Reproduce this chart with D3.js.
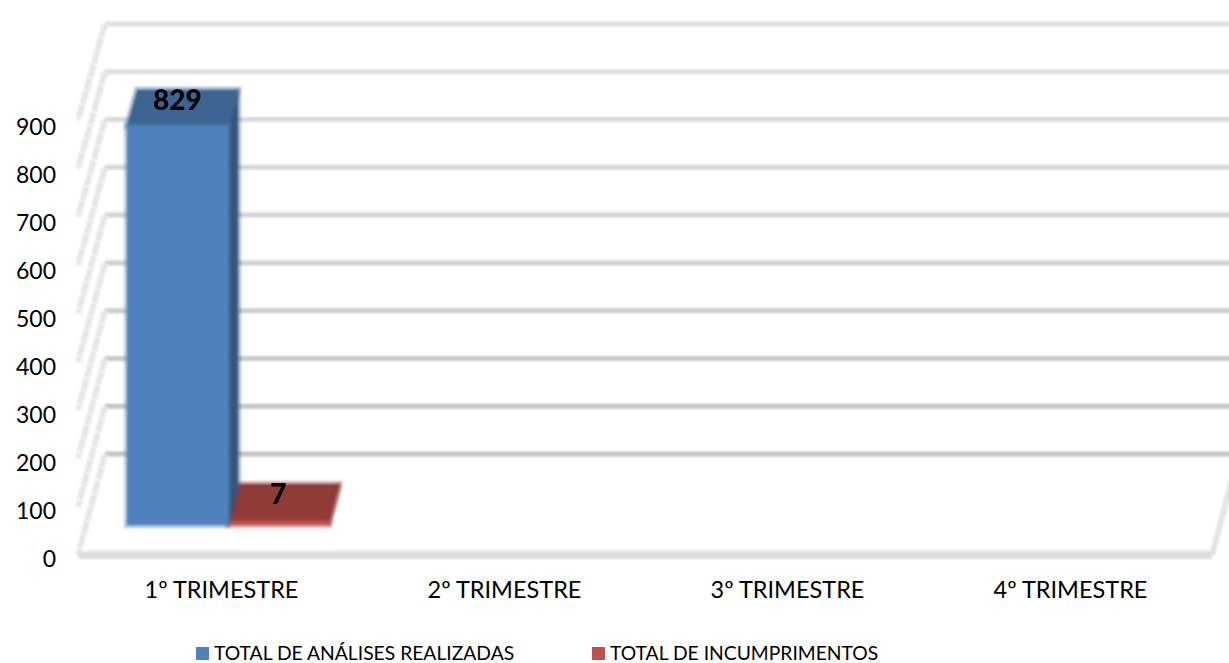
<!DOCTYPE html>
<html>
<head>
<meta charset="utf-8">
<script src="https://cdn.jsdelivr.net/npm/d3@7"></script>
<style>
  html, body { margin: 0; padding: 0; background: #fff; }
  svg { display: block; }
  text { font-family: Lato, "Open Sans", sans-serif; fill: #000; }
</style>
</head>
<body>
<div id="chart"></div>
<script>
var categories = ["1º TRIMESTRE", "2º TRIMESTRE", "3º TRIMESTRE", "4º TRIMESTRE"];
var analises = [829, null, null, null];
var incumprimentos = [7, null, null, null];
var tickValues = [0, 100, 200, 300, 400, 500, 600, 700, 800, 900];
var seriesNames = ["TOTAL DE ANÁLISES REALIZADAS", "TOTAL DE INCUMPRIMENTOS"];

var width = 1229, height = 663;

var svg = d3.select("#chart").append("svg")
  .attr("width", width)
  .attr("height", height);

var defs = svg.append("defs");
defs.append("filter").attr("id", "soft")
  .attr("x", "-5%").attr("y", "-5%").attr("width", "110%").attr("height", "110%")
  .append("feGaussianBlur").attr("stdDeviation", 0.9);
defs.append("filter").attr("id", "softText")
  .append("feGaussianBlur").attr("stdDeviation", 0.35);

// front plane and back plane of the 3d box
var yFront = d3.scaleLinear().domain([0, 900]).range([555, 120]);
var yBack = d3.scaleLinear().domain([0, 900]).range([454, 24]);
var xFront = d3.scaleLinear().domain([0, 4]).range([78, 1212]);
var xBack = d3.scaleLinear().domain([0, 4]).range([105, 1239]);
var band = d3.scaleBand().domain(categories).range([80, 1212]);
var toPos = xFront.copy().clamp(false);

// depth 0 = front of the floor, depth 1 = back wall
function project(pos, value, depth) {
  return [
    xFront(pos) + (xBack(pos) - xFront(pos)) * depth,
    yFront(value) + (yBack(value) - yFront(value)) * depth
  ];
}

var line = d3.line();
var walls = svg.append("g").attr("filter", "url(#soft)");

// back wall gridlines, they get darker towards the bottom
var gridColor = d3.scaleLinear().domain([0, 900]).range(["#c2c2c2", "#e0e0e0"]);
walls.selectAll(".grid").data(tickValues).enter().append("path")
  .attr("class", "grid")
  .attr("d", function(d) { return line([project(0, d, 1), project(4, d, 1)]); })
  .attr("stroke", function(d) { return gridColor(d); })
  .attr("stroke-width", 5)
  .attr("fill", "none");

// side wall gridlines
walls.selectAll(".side").data(tickValues).enter().append("path")
  .attr("class", "side")
  .attr("d", function(d) { return line([project(0, d, 1), project(0, d, 0)]); })
  .attr("stroke", "#e6e6e6")
  .attr("stroke-width", 6)
  .attr("stroke-dasharray", "13 1")
  .attr("fill", "none");

// floor
walls.append("path")
  .attr("d", line([project(0, 0, 0), project(4, 0, 0)]))
  .attr("stroke", "#dfdfdf")
  .attr("stroke-width", 8)
  .attr("fill", "none");
walls.append("path")
  .attr("d", line([project(4, 0, 0), project(4, 0, 1)]))
  .attr("stroke", "#e4e4e4")
  .attr("stroke-width", 6)
  .attr("fill", "none");

// bars
var depthFront = 0.295, depthBack = 0.67;
var slot = band.bandwidth() * 0.3565;
var barGroup = svg.append("g").attr("filter", "url(#soft)");
var blue = { front: "#4f81bd", top: "#3d6491", side: "#34557f" };
var red = { front: "#c0504d", top: "#8f3a38", side: "#7d3230" };

function slotStart(catIndex, seriesIndex) {
  return toPos.invert(band(categories[catIndex]) + 39 + seriesIndex * slot);
}

function bar(catIndex, seriesIndex, value, colors) {
  var x0 = slotStart(catIndex, seriesIndex);
  var x1 = toPos.invert(toPos(x0) + slot);
  function poly(pts, fill) {
    barGroup.append("path")
      .attr("d", line(pts) + "Z")
      .attr("fill", fill)
      .attr("stroke", fill)
      .attr("stroke-opacity", 0.4)
      .attr("stroke-width", 6);
  }
  poly([project(x1, 0, depthFront), project(x1, 0, depthBack), project(x1, value, depthBack), project(x1, value, depthFront)], colors.side);
  poly([project(x0, value, depthFront), project(x1, value, depthFront), project(x1, value, depthBack), project(x0, value, depthBack)], colors.top);
  poly([project(x0, 0, depthFront), project(x1, 0, depthFront), project(x1, value, depthFront), project(x0, value, depthFront)], colors.front);
}

incumprimentos.forEach(function(v, i) { if (v !== null) bar(i, 1, v, red); });
analises.forEach(function(v, i) { if (v !== null) bar(i, 0, v, blue); });

// value labels, sit on the top of each bar
var labels = svg.append("g").attr("filter", "url(#softText)")
  .attr("font-weight", 900)
  .attr("font-size", 28)
  .attr("text-anchor", "middle");

function valueLabel(catIndex, seriesIndex, value) {
  var xMid = toPos.invert(toPos(slotStart(catIndex, seriesIndex)) + slot / 2);
  labels.append("text")
    .attr("x", project(xMid, value, depthFront)[0])
    .attr("y", project(xMid, value, depthBack)[1] + 20)
    .text(value);
}
analises.forEach(function(v, i) { if (v !== null) valueLabel(i, 0, v); });
incumprimentos.forEach(function(v, i) { if (v !== null) valueLabel(i, 1, v); });

// y axis labels
var yLabels = d3.scaleLinear().domain([0, 900]).range([559, 127]);
var axis = svg.append("g")
  .attr("transform", "translate(56,0)")
  .call(d3.axisLeft(yLabels).tickValues(tickValues).tickSize(0).tickPadding(0));
axis.select(".domain").remove();
axis.selectAll("text")
  .attr("font-size", 23)
  .style("font-family", "Lato, sans-serif");

// category labels
svg.append("g").selectAll("text").data(categories).enter().append("text")
  .attr("x", function(d) { return band(d) + band.bandwidth() / 2; })
  .attr("y", 598)
  .attr("text-anchor", "middle")
  .attr("font-size", 23.5)
  .text(function(d) { return d; });

// legend
var legendX = [196, 592];
var legendColors = [blue.front, red.front];
var legend = svg.append("g").selectAll("g").data(seriesNames).enter().append("g")
  .attr("transform", function(d, i) { return "translate(" + legendX[i] + ",647)"; });
legend.append("rect").attr("width", 13).attr("height", 13)
  .attr("fill", function(d, i) { return legendColors[i]; });
legend.append("text").attr("x", 18).attr("y", 13)
  .attr("font-size", 19.3)
  .text(function(d) { return d; });
</script>
</body>
</html>
